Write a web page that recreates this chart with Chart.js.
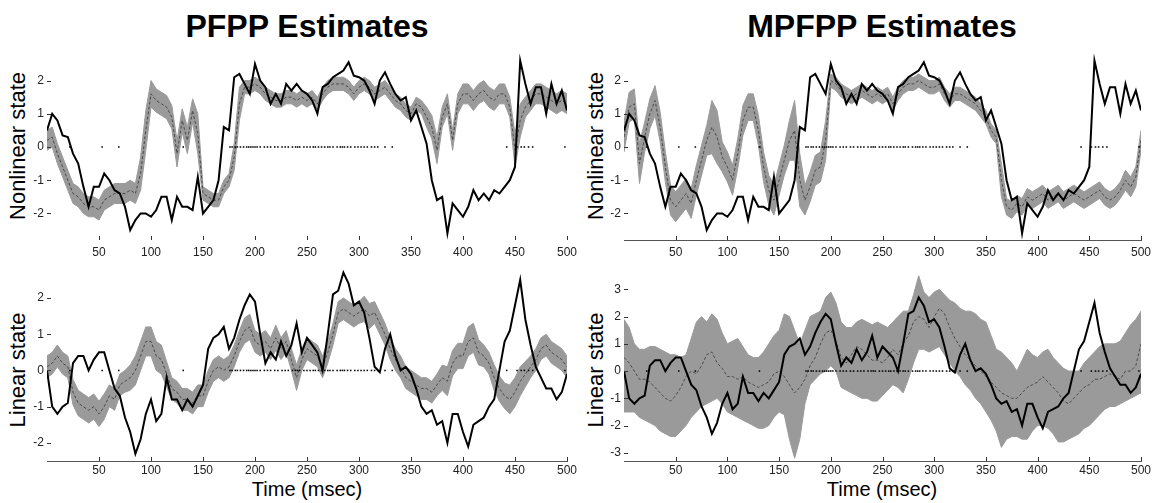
<!DOCTYPE html>
<html>
<head>
<meta charset="utf-8">
<script src="https://cdn.jsdelivr.net/npm/chart.js@4"></script>
<style>
  body { margin: 0; background: #fff; width: 1156px; height: 503px; position: relative; overflow: hidden;
         font-family: "Liberation Sans", Arial, sans-serif; color: #000; }
  canvas { position: absolute; }
  .title { position: absolute; top: 8px; font-weight: bold; font-size: 32px; transform: translateX(-50%); white-space: nowrap; }
  .ylab { position: absolute; font-size: 22px; white-space: nowrap; transform: translate(-50%, -50%) rotate(-90deg); }
  .xlab { position: absolute; top: 478px; font-size: 20px; transform: translateX(-50%); white-space: nowrap; }
</style>
</head>
<body>
<div class="title" style="left:307px">PFPP Estimates</div>
<div class="title" style="left:882px">MPFPP Estimates</div>
<div class="ylab" style="left:18px; top:146px">Nonlinear state</div>
<div class="ylab" style="left:596px; top:146px">Nonlinear state</div>
<div class="ylab" style="left:18px; top:370px">Linear state</div>
<div class="ylab" style="left:596px; top:370px">Linear state</div>
<div class="xlab" style="left:307px">Time (msec)</div>
<div class="xlab" style="left:882px">Time (msec)</div>

<canvas id="pfppNonlin" width="580" height="206" style="left:0px; top:54px"></canvas>
<canvas id="mpfppNonlin" width="579" height="206" style="left:577px; top:54px"></canvas>
<canvas id="pfppLin" width="580" height="212" style="left:0px; top:269px"></canvas>
<canvas id="mpfppLin" width="579" height="208" style="left:577px; top:273px"></canvas>

<script>
// sample grid (msec)
const sampleTimes = [
  0, 5, 10, 15, 20, 25, 30, 35, 40, 45, 50, 55, 60, 65, 70, 75, 80, 85, 90, 95,
  100, 105, 110, 115, 120, 125, 130, 135, 140, 145, 150, 155, 160, 165, 170, 175, 180, 185, 190, 195,
  200, 205, 210, 215, 220, 225, 230, 235, 240, 245, 250, 255, 260, 265, 270, 275, 280, 285, 290, 295,
  300, 305, 310, 315, 320, 325, 330, 335, 340, 345, 350, 355, 360, 365, 370, 375, 380, 385, 390, 395,
  400, 405, 410, 415, 420, 425, 430, 435, 440, 445, 450, 455, 460, 465, 470, 475, 480, 485, 490, 495, 500
];

const xTickValues = [50, 100, 150, 200, 250, 300, 350, 400, 450, 500];
const yTickValues = [-2, -1, 0, 1, 2];
const yTickValuesWide = [-3, -2, -1, 0, 1, 2, 3];

// spike train, drawn on the zero line
const spikeTimes = [
  22, 53, 69, 131, 176, 178, 181, 183, 186, 189, 192, 194, 196, 198, 200, 202, 205, 209, 212, 215,
  219, 222, 226, 229, 232, 236, 239, 241, 243, 247, 250, 253, 256, 258, 261, 264, 267, 270, 272, 275,
  279, 282, 284, 286, 289, 292, 296, 299, 302, 305, 308, 312, 315, 318, 325, 332, 442, 452, 456, 459,
  463, 467, 498
];

// true nonlinear state
const nonlinearTrue = [
  0.5, 1.0, 0.8, 0.35, 0.3, -0.2, -0.5, -1.2, -1.8, -1.2,
  -1.2, -0.8, -1.0, -1.3, -1.4, -1.8, -2.5, -2.2, -2.0, -2.0,
  -2.1, -1.9, -1.5, -1.5, -2.2, -1.5, -1.8, -1.8, -1.9, -0.9,
  -2.0, -1.8, -1.6, -1.0, 0.6, 0.5, 2.1, 2.2, 1.9, 1.6,
  2.5, 2.0, 1.8, 1.3, 1.6, 1.3, 1.9, 1.7, 1.9, 1.7,
  1.6, 1.4, 1.0, 1.8, 1.9, 2.1, 2.2, 2.3, 2.55, 2.15,
  2.1, 2.0, 1.7, 1.3, 2.0, 2.25, 1.9, 1.6, 1.4, 1.5,
  0.8, 1.1, 0.6, 0.1, -1.0, -1.6, -1.5, -2.6, -1.7, -1.9,
  -2.1, -1.8, -1.3, -1.6, -1.4, -1.6, -1.3, -1.4, -1.2, -1.0,
  -0.6, 2.6, 1.9, 1.3, 1.8, 1.8, 1.0, 1.9, 1.3, 1.7, 1.1
];

// PFPP estimate of the nonlinear state
const pfppNonlinMean = [
  0.2, 0.3, -0.2, -0.6, -1.0, -1.4, -1.5, -1.7, -1.8, -1.8,
  -1.9, -1.6, -1.5, -1.4, -1.4, -1.4, -1.3, -1.4, -0.8, 0.5,
  1.6, 1.4, 1.3, 1.2, 0.9, -0.2, 0.8, 0.2, 1.1, 0.4,
  -1.4, -1.5, -1.6, -1.6, -1.2, -1.0, -0.3, 1.3, 1.8, 1.8,
  1.9, 1.8, 1.6, 1.5, 1.4, 1.4, 1.5, 1.5, 1.4, 1.5,
  1.4, 1.5, 1.3, 1.6, 1.8, 1.9, 1.9, 1.9, 1.8, 1.6,
  1.8, 1.9, 1.8, 1.6, 1.7, 1.8, 1.6, 1.4, 1.3, 1.1,
  1.0, 1.3, 1.2, 0.9, 0.6, -0.1, 0.9, 1.3, 0.2, 1.3,
  1.6, 1.6, 1.4, 1.6, 1.7, 1.5, 1.4, 1.6, 1.6, 1.2,
  -0.1, 0.8, 1.2, 1.4, 1.6, 1.6, 1.5, 1.4, 1.3, 1.4, 1.3
];
const pfppNonlinSpread = [
  0.3, 0.3, 0.3, 0.3, 0.3, 0.3, 0.3, 0.3, 0.3, 0.3,
  0.3, 0.3, 0.3, 0.3, 0.3, 0.3, 0.3, 0.3, 0.5, 0.6,
  0.4, 0.35, 0.35, 0.35, 0.35, 0.4, 0.35, 0.4, 0.35, 0.6,
  0.2, 0.2, 0.2, 0.2, 0.2, 0.2, 0.4, 0.5, 0.2, 0.2,
  0.2, 0.2, 0.2, 0.2, 0.2, 0.2, 0.2, 0.2, 0.2, 0.2,
  0.2, 0.2, 0.2, 0.2, 0.2, 0.2, 0.2, 0.2, 0.2, 0.2,
  0.2, 0.2, 0.2, 0.2, 0.2, 0.2, 0.2, 0.2, 0.2, 0.2,
  0.2, 0.2, 0.2, 0.3, 0.35, 0.4, 0.3, 0.3, 0.3, 0.3,
  0.3, 0.3, 0.3, 0.3, 0.3, 0.3, 0.3, 0.3, 0.3, 0.3,
  0.5, 0.5, 0.3, 0.3, 0.3, 0.3, 0.3, 0.3, 0.3, 0.3, 0.3
];

// MPFPP estimate of the nonlinear state
const mpfppNonlinMean = [
  0.3, 1.2, 1.3, -0.5, 0.3, 1.0, 1.4, 0.6, -0.6, -1.6,
  -1.8, -1.6, -1.4, -1.7, -1.0, -0.4, 0.2, 0.6, 0.3, -0.3,
  -0.6, -1.0, -0.2, 0.8, 1.2, 1.2, 0.5, -0.6, -1.3, -1.6,
  -1.0, -0.4, 0.2, 0.5, -1.0, -1.6, -1.2, -0.7, -0.6, 0.2,
  2.0, 1.9, 1.7, 1.6, 1.5, 1.6, 1.7, 1.6, 1.5, 1.6,
  1.5, 1.6, 1.3, 1.6, 1.8, 1.9, 1.9, 2.0, 1.9, 1.8,
  1.8, 1.9, 1.6, 1.4, 1.6, 1.6, 1.5, 1.4, 1.3, 1.1,
  0.9, 0.5, 0.3, -1.0, -1.8, -1.9, -1.7, -1.8, -1.5, -1.6,
  -1.5, -1.4, -1.6, -1.5, -1.4, -1.6, -1.5, -1.4, -1.5, -1.6,
  -1.5, -1.4, -1.3, -1.5, -1.6, -1.5, -1.3, -1.0, -1.2, -0.9, 0.2
];
const mpfppNonlinSpread = [
  0.45, 0.45, 0.45, 0.6, 0.45, 0.45, 0.45, 0.45, 0.45, 0.45,
  0.45, 0.45, 0.45, 0.45, 0.45, 0.45, 0.45, 0.8, 0.8, 0.45,
  0.45, 0.45, 0.45, 0.45, 0.4, 0.4, 0.45, 0.45, 0.45, 0.45,
  0.45, 0.45, 0.6, 0.9, 0.8, 0.45, 0.45, 0.45, 0.45, 0.6,
  0.2, 0.2, 0.2, 0.2, 0.2, 0.2, 0.2, 0.2, 0.2, 0.2,
  0.2, 0.2, 0.2, 0.2, 0.2, 0.2, 0.2, 0.2, 0.2, 0.2,
  0.2, 0.2, 0.2, 0.2, 0.2, 0.2, 0.2, 0.2, 0.2, 0.2,
  0.2, 0.2, 0.2, 0.5, 0.25, 0.25, 0.25, 0.25, 0.25, 0.25,
  0.25, 0.25, 0.25, 0.25, 0.25, 0.25, 0.25, 0.25, 0.25, 0.25,
  0.25, 0.25, 0.25, 0.25, 0.25, 0.25, 0.25, 0.3, 0.3, 0.3, 0.3
];

// true linear state
const linearTrue = [
  0.0, -1.0, -1.2, -1.0, -0.9, 0.2, 0.4, 0.4, 0.0, 0.3,
  0.5, 0.5, 0.0, -0.5, -0.7, -1.3, -1.7, -2.3, -1.9, -1.2,
  -0.8, -1.4, -1.2, -0.2, -0.8, -0.8, -1.1, -0.8, -1.0, -0.7,
  -0.4, 0.6, 0.9, 1.0, 1.2, 0.6, 0.9, 1.4, 1.8, 2.1,
  1.9, 1.0, 0.2, 0.5, 0.3, 0.8, 0.4, 0.7, 1.3, 0.5,
  0.9, 0.7, 0.5, 0.0, 1.0, 2.1, 2.2, 2.7, 2.4, 1.8,
  1.9, 1.6, 0.9, 0.1, -0.05, 0.6, 1.0, 0.4, 0.0, 0.1,
  -0.1, -0.5, -1.0, -1.2, -1.1, -1.5, -1.4, -2.0, -1.2, -1.2,
  -1.7, -2.1, -1.5, -1.4, -1.3, -1.0, -0.8, 0.0, 0.8, 1.1,
  1.8, 2.5, 1.4, 0.7, 0.1, -0.2, -0.5, -0.5, -0.8, -0.6, -0.1
];

// PFPP estimate of the linear state
const pfppLinMean = [
  0.1, 0.2, 0.4, 0.2, 0.1, -0.6, -0.9, -1.0, -1.1, -1.0,
  -1.2, -1.0, -0.7, -0.8, -0.4, -0.3, -0.2, 0.0, 0.4, 0.8,
  0.8, 0.4, 0.3, -0.1, -0.5, -0.6, -0.8, -0.8, -0.9, -0.7,
  -0.7, -0.3, 0.0, 0.1, 0.0, 0.1, 0.4, 0.8, 1.1, 1.2,
  0.8, 0.7, 0.8, 0.6, 0.9, 0.6, 0.8, 0.3, -0.2, 0.3,
  0.6, 0.5, 0.4, 0.1, 0.5, 1.0, 1.6, 1.7, 1.6, 1.5,
  1.6, 1.7, 1.5, 1.6, 1.3, 1.0, 0.6, 0.3, 0.1, -0.2,
  -0.3, -0.4, -0.5, -0.5, -0.6, -0.4, -0.2, -0.3, 0.2, 0.4,
  0.4, 0.8, 0.9, 0.5, 0.4, 0.2, -0.2, -0.5, -0.7, -0.8,
  -0.6, -0.3, -0.1, 0.1, 0.3, 0.6, 0.7, 0.5, 0.4, 0.3, 0.1
];
const pfppLinSpread = [
  0.3, 0.3, 0.3, 0.3, 0.3, 0.35, 0.35, 0.35, 0.35, 0.35,
  0.35, 0.35, 0.3, 0.3, 0.3, 0.3, 0.35, 0.4, 0.4, 0.4,
  0.4, 0.4, 0.4, 0.35, 0.3, 0.3, 0.3, 0.3, 0.3, 0.3,
  0.3, 0.3, 0.3, 0.3, 0.3, 0.3, 0.3, 0.3, 0.35, 0.35,
  0.3, 0.3, 0.3, 0.3, 0.35, 0.3, 0.3, 0.3, 0.35, 0.3,
  0.3, 0.3, 0.3, 0.3, 0.3, 0.3, 0.3, 0.3, 0.3, 0.3,
  0.3, 0.35, 0.35, 0.3, 0.3, 0.3, 0.3, 0.3, 0.3, 0.3,
  0.3, 0.3, 0.3, 0.3, 0.3, 0.3, 0.35, 0.4, 0.35, 0.35,
  0.35, 0.4, 0.4, 0.35, 0.3, 0.3, 0.35, 0.35, 0.35, 0.4,
  0.4, 0.4, 0.35, 0.3, 0.3, 0.3, 0.3, 0.3, 0.3, 0.3, 0.3
];

// MPFPP estimate of the linear state, with its interval bounds
const mpfppLinMean = [
  0.5, 0.3, 0.0, -0.3, -0.3, -0.4, -0.6, -0.8, -1.0, -1.1,
  -0.9, -0.6, -0.2, 0.0, -0.1, 0.2, 0.6, 0.7, 0.3, 0.1,
  -0.2, -0.2, -0.3, -0.2, -0.4, -0.5, -0.6, -0.5, -0.4, -0.1,
  0.0, -0.2, -0.5, -0.8, -0.6, -0.3, 0.2, 0.5, 1.0, 1.4,
  1.5, 1.1, 0.5, 0.3, 0.6, 0.9, 0.8, 0.6, 0.4, 0.4,
  0.3, 0.5, 0.8, 0.6, 1.0, 1.3, 1.8, 2.0, 1.9, 1.6,
  2.0, 2.3, 2.1, 1.6, 1.2, 0.9, 0.6, 0.4, 0.2, 0.0,
  -0.2, -0.4, -0.6, -0.8, -0.9, -1.0, -1.0, -0.8, -0.6, -0.5,
  -0.4, -0.2, -0.4, -0.6, -0.8, -1.1, -1.2, -1.0, -0.8, -0.6,
  -0.5, -0.3, -0.3, -0.2, -0.1, -0.2, -0.3, 0.0, 0.0, 0.2, 1.0
];
const mpfppLinUpper = [
  1.9, 1.6, 1.0, 0.8, 0.8, 0.9, 0.9, 0.8, 0.7, 0.6,
  0.6, 0.5, 0.6, 1.2, 1.8, 2.0, 1.8, 2.1, 1.9, 1.4,
  1.0, 1.1, 1.2, 0.9, 0.6, 0.5, 0.5, 0.7, 1.0, 1.3,
  1.5, 2.1, 2.0, 1.5, 1.0, 1.5, 2.0, 2.1, 2.2, 2.7,
  2.9, 2.5, 1.8, 1.6, 1.6, 1.8, 1.9, 1.8, 1.7, 1.8,
  1.7, 1.6, 1.8, 2.0, 2.2, 2.2, 2.8, 3.5, 2.9, 2.7,
  2.9, 3.0, 2.8, 2.6, 2.5, 2.3, 2.2, 2.2, 2.1, 1.9,
  1.8, 1.3, 0.8, 0.7, 0.5, 0.3, 0.0, 0.4, 0.8, 0.6,
  0.5, 0.7, 0.8, 0.5, 0.3, 0.1, 0.0, 0.0, 0.0, 0.3,
  0.5, 0.7, 0.9, 1.0, 1.0, 1.0, 1.1, 1.4, 1.7, 1.9, 2.2
];
const mpfppLinLower = [
  -1.5, -1.5, -1.5, -1.7, -1.8, -1.9, -2.0, -2.2, -2.3, -2.4,
  -2.4, -2.2, -2.0, -1.7, -1.5, -1.3, -1.2, -1.1, -1.0, -1.2,
  -1.5, -1.6, -1.7, -1.8, -1.9, -2.0, -2.1, -2.1, -2.0, -1.7,
  -1.5, -1.6, -2.5, -3.2, -2.5, -1.2, -0.5, -0.3, -0.1, 0.0,
  0.2, 0.0, -0.6, -0.7, -0.8, -0.9, -1.0, -1.0, -1.1, -1.1,
  -0.9, -0.7, -0.5, -0.6, -0.8, -0.3, 0.3, 0.8, 0.8, 0.7,
  0.8, 0.9, 0.6, 0.3, 0.0, -0.2, -0.5, -0.7, -1.0, -1.2,
  -1.5, -1.8, -2.2, -2.8, -2.5, -2.4, -2.4, -2.5, -2.5, -2.2,
  -2.0, -2.0, -2.1, -2.3, -2.6, -2.6, -2.5, -2.4, -2.3, -2.1,
  -2.0, -1.8, -1.6, -1.4, -1.3, -1.3, -1.2, -1.1, -1.0, -0.9, -0.8
];

const bandColor = '#9a9a9a';
const tickFont = { family: '"Liberation Sans", Arial, sans-serif', size: 12 };

function pts(vals) {
  return sampleTimes.map((t, i) => ({ x: t, y: vals[i] }));
}

// MATLAB-style tick marks pointing into the axes
const inwardTicks = {
  id: 'inwardTicks',
  afterDatasetsDraw(chart) {
    const { ctx, chartArea: a, scales: { x, y } } = chart;
    ctx.save();
    ctx.strokeStyle = '#333';
    ctx.lineWidth = 1;
    ctx.beginPath();
    x.ticks.forEach(t => {
      const px = Math.round(x.getPixelForValue(t.value)) + 0.5;
      ctx.moveTo(px, a.bottom);
      ctx.lineTo(px, a.bottom - 4);
    });
    y.ticks.forEach(t => {
      const py = Math.round(y.getPixelForValue(t.value)) + 0.5;
      ctx.moveTo(a.left, py);
      ctx.lineTo(a.left + 4, py);
    });
    ctx.stroke();
    ctx.restore();
  }
};

function drawPanel(id, p) {
  new Chart(document.getElementById(id), {
    type: 'line',
    data: {
      datasets: [
        { data: pts(p.lower), borderColor: bandColor, borderWidth: 1, pointRadius: 0, fill: false, order: 4 },
        { data: pts(p.upper), borderColor: bandColor, borderWidth: 1, pointRadius: 0, fill: '-1', backgroundColor: bandColor, order: 3 },
        { data: pts(p.mean), borderColor: '#4a4a4a', borderWidth: 1, borderDash: [3, 2], pointRadius: 0, fill: false, order: 2 },
        { data: pts(p.truth), borderColor: '#000', borderWidth: 2, pointRadius: 0, fill: false, order: 1 },
        { data: spikeTimes.map(t => ({ x: t, y: 0 })), showLine: false, pointStyle: 'rect', pointRadius: 1.1,
          backgroundColor: '#000', borderWidth: 0, order: 0 }
      ]
    },
    options: {
      responsive: false,
      animation: false,
      devicePixelRatio: 1,
      layout: { autoPadding: false, padding: { left: 0, right: p.padRight, top: 0, bottom: 0 } },
      plugins: { legend: { display: false }, tooltip: { enabled: false } },
      elements: { line: { tension: 0 } },
      scales: {
        x: {
          type: 'linear', min: 0, max: 500,
          afterBuildTicks: s => { s.ticks = xTickValues.map(v => ({ value: v })); },
          afterFit: s => { s.height = 20; s.paddingLeft = 0; s.paddingRight = 0; },
          grid: { display: false, drawTicks: false, tickLength: 0 },
          border: { display: p.xLine, color: '#555', width: 1 },
          ticks: { font: tickFont, color: '#222', padding: p.xPad, maxRotation: 0, autoSkip: false }
        },
        y: {
          min: p.yMin, max: p.yMax,
          afterBuildTicks: s => { s.ticks = p.yTicks.map(v => ({ value: v })); },
          afterFit: s => { s.width = 47; s.paddingTop = 0; s.paddingBottom = 0; },
          grid: { display: false, drawTicks: false, tickLength: 0 },
          border: { display: false },
          ticks: { font: tickFont, color: '#222', padding: 3 }
        }
      }
    },
    plugins: [inwardTicks]
  });
}

drawPanel('pfppNonlin', {
  truth: nonlinearTrue, mean: pfppNonlinMean,
  lower: pfppNonlinMean.map((m, i) => m - pfppNonlinSpread[i]),
  upper: pfppNonlinMean.map((m, i) => m + pfppNonlinSpread[i]),
  yMin: -2.8, yMax: 2.8, yTicks: yTickValues, padRight: 13, xLine: false, xPad: 5
});
drawPanel('mpfppNonlin', {
  truth: nonlinearTrue, mean: mpfppNonlinMean,
  lower: mpfppNonlinMean.map((m, i) => m - mpfppNonlinSpread[i]),
  upper: mpfppNonlinMean.map((m, i) => m + mpfppNonlinSpread[i]),
  yMin: -2.8, yMax: 2.8, yTicks: yTickValues, padRight: 15, xLine: true, xPad: 5
});
drawPanel('pfppLin', {
  truth: linearTrue, mean: pfppLinMean,
  lower: pfppLinMean.map((m, i) => m - pfppLinSpread[i]),
  upper: pfppLinMean.map((m, i) => m + pfppLinSpread[i]),
  yMin: -2.5, yMax: 2.8, yTicks: yTickValues, padRight: 13, xLine: true, xPad: 2
});
drawPanel('mpfppLin', {
  truth: linearTrue, mean: mpfppLinMean,
  lower: mpfppLinLower, upper: mpfppLinUpper,
  yMin: -3.3, yMax: 3.6, yTicks: yTickValuesWide, padRight: 15, xLine: true, xPad: 2
});
</script>
</body>
</html>
